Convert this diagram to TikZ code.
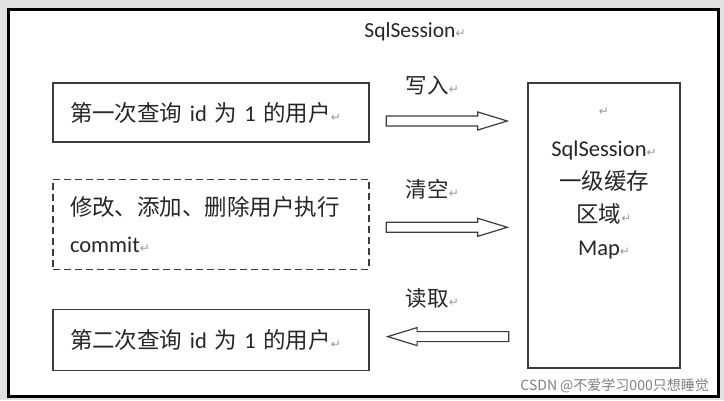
\documentclass[tikz,border=0pt]{standalone}
\usepackage{fontspec}
\setmainfont{Carlito}
\newfontfamily\cjk{Noto Sans CJK SC}
\newfontfamily\symb{DejaVu Sans}
\usepackage{tikz}
\usetikzlibrary{positioning,calc,shapes.arrows}
\usepackage{xcolor}
\definecolor{ink}{HTML}{262626}
\definecolor{edge}{HTML}{3C3C3C}
\definecolor{paper}{HTML}{E1E1E1}
\definecolor{retgray}{HTML}{9A9A9A}
\newcommand{\zh}[1]{{\cjk #1}}
\newcommand{\ret}{{\symb\fontsize{12}{12}\selectfont\textcolor{retgray}{↵}}}

\begin{document}
\begin{tikzpicture}[
    x=1pt, y=1pt,
    box/.style={draw=edge, line width=1.3pt, text width=282pt, inner xsep=17pt, inner ysep=0pt, align=left, text=ink, font=\fontsize{22.5}{37}\selectfont},
    store/.style={draw=edge, line width=1.3pt, minimum width=152pt, minimum height=285pt},
    hollow/.style={single arrow, draw=edge, fill=white, line width=1.2pt, inner xsep=0pt, inner ysep=4.4pt, minimum height=121pt, minimum width=18pt, single arrow head extend=4pt, single arrow tip angle=34},
    lbl/.style={anchor=west, inner sep=0pt, text=ink, font=\fontsize{21.5}{24}\selectfont}
]
\fill[paper] (0,0) rectangle (724,400);
\draw[black, line width=3pt, fill=white] (8,4) rectangle (718,390);
\useasboundingbox (0,0) rectangle (724,400);

\node[inner sep=0pt, text=ink, font=\fontsize{21.5}{24}\selectfont] (title) at (415,368) {SqlSession\ret};

\node[box, minimum height=59pt] (first) at (211,287.5) {\zh{第一次查询} id \zh{为} 1 \zh{的用户}\ret};
\node[box, dash pattern=on 7pt off 4pt, minimum height=90pt, below=36pt of first] (change) {\zh{修改、添加、删除用户执行}\\commit\ret};
\node[box, minimum height=61pt, below=39pt of change] (second) {\zh{第二次查询} id \zh{为} 1 \zh{的用户}\ret};

\node[store] (cache) at (604,174.5) {};
\node[inner sep=0pt, align=center, text=ink, font=\fontsize{22.5}{33}\selectfont, below=25pt of cache.north] (cachetxt)
    {\ret\\[8pt]SqlSession\ret\\\zh{一级缓存}\\\zh{区域}\ret\\Map\ret};

\node[hollow, anchor=tail] (wr) at ($(first.east)+(16,-8.5)$) {};
\node[hollow, anchor=tail] (cl) at ($(change.east)+(16,-3)$) {};
\node[hollow, shape border rotate=180, anchor=tip] (rd) at ($(second.east)+(16,3.5)$) {};

\node[lbl] (wrtext) at ($(wr.tail)+(20,36)$) {\zh{写入}\ret};
\node[lbl] (cltext) at ($(cl.tail)+(20,38)$) {\zh{清空}\ret};
\node[lbl] (rdtext) at ($(rd.tip)+(20,38)$) {\zh{读取}\ret};

\node[anchor=east, inner sep=0pt, text=black!50, font=\cjk\fontsize{14}{14}\selectfont] (wmark) at (709,14) {CSDN @不爱学习000只想睡觉};
\end{tikzpicture}
\end{document}
